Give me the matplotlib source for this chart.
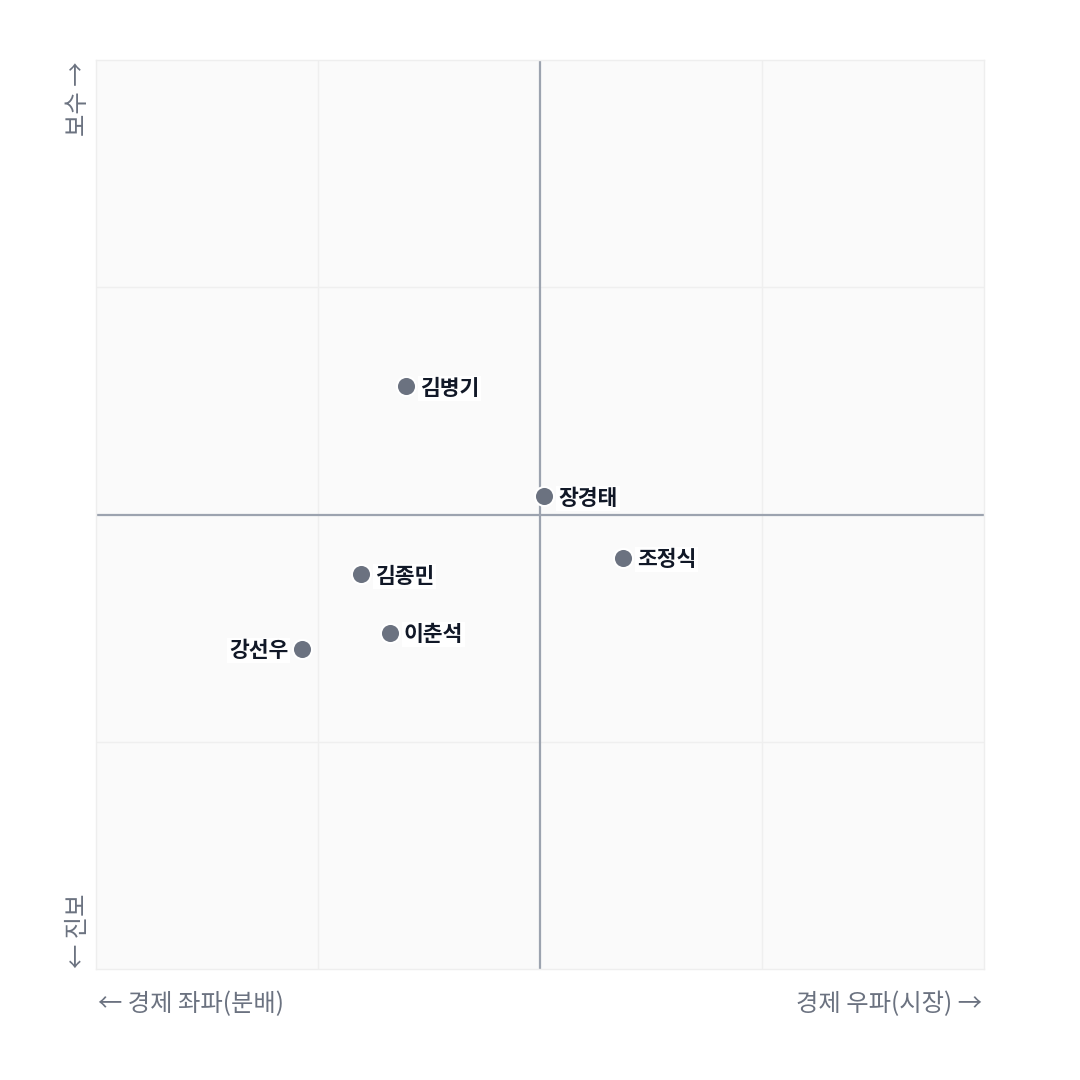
import matplotlib
matplotlib.use("Agg")
import matplotlib.pyplot as plt

plt.rcParams['font.family'] = ['Noto Sans CJK KR', 'DejaVu Sans']

names = ["김병기", "장경태", "조정식", "김종민", "이춘석", "강선우"]
econ = [-3.02, 0.1, 1.87, -4.03, -3.38, -5.36]
social = [2.82, 0.4, -0.95, -1.32, -2.6, -2.95]
label_side = ["right", "right", "right", "right", "right", "left"]

fig = plt.figure(figsize=(10.8, 10.8), dpi=100)
ax = fig.add_axes([96 / 1080, 111 / 1080, 888 / 1080, 909 / 1080])
ax.set_facecolor("#fafafa")
ax.set_xlim(-10, 10)
ax.set_ylim(-10, 10)

for v in (-5, 5):
    ax.axvline(v, color="#efefef", lw=1, zorder=1)
    ax.axhline(v, color="#efefef", lw=1, zorder=1)
ax.axvline(0, color="#9ca3af", lw=1.6, zorder=2)
ax.axhline(0, color="#9ca3af", lw=1.6, zorder=2)

for s in ax.spines.values():
    s.set_color("#eeeeee")
    s.set_linewidth(1)
ax.set_xticks([])
ax.set_yticks([])

ax.scatter(econ, social, s=190, color="#6b7280", edgecolor="white",
           linewidth=1.5, zorder=5)

for n, x, y, side in zip(names, econ, social, label_side):
    if side == "right":
        off, ha = 10, "left"
    else:
        off, ha = -10, "right"
    ax.annotate(n, (x, y), xytext=(off, -1.5), textcoords="offset points",
                ha=ha, va="center", fontsize=15.5, fontweight="bold",
                color="#111827", zorder=6,
                bbox=dict(boxstyle="square,pad=0.1", fc="white", ec="none"))

lab_color = "#6b7280"
fig.text(98 / 1080, 1 - 1004 / 1080, "← 경제 좌파(분배)", ha="left", va="center",
         fontsize=17.5, color=lab_color)
fig.text(982 / 1080, 1 - 1004 / 1080, "경제 우파(시장) →", ha="right", va="center",
         fontsize=17.5, color=lab_color)
fig.text(78 / 1080, 1 - 62 / 1080, "보수 →", ha="center", va="top", rotation=90,
         fontsize=17.5, color=lab_color)
fig.text(78 / 1080, 1 - 968 / 1080, "← 진보", ha="center", va="bottom", rotation=90,
         fontsize=17.5, color=lab_color)

fig.savefig("out.png", dpi=100, facecolor="white")
